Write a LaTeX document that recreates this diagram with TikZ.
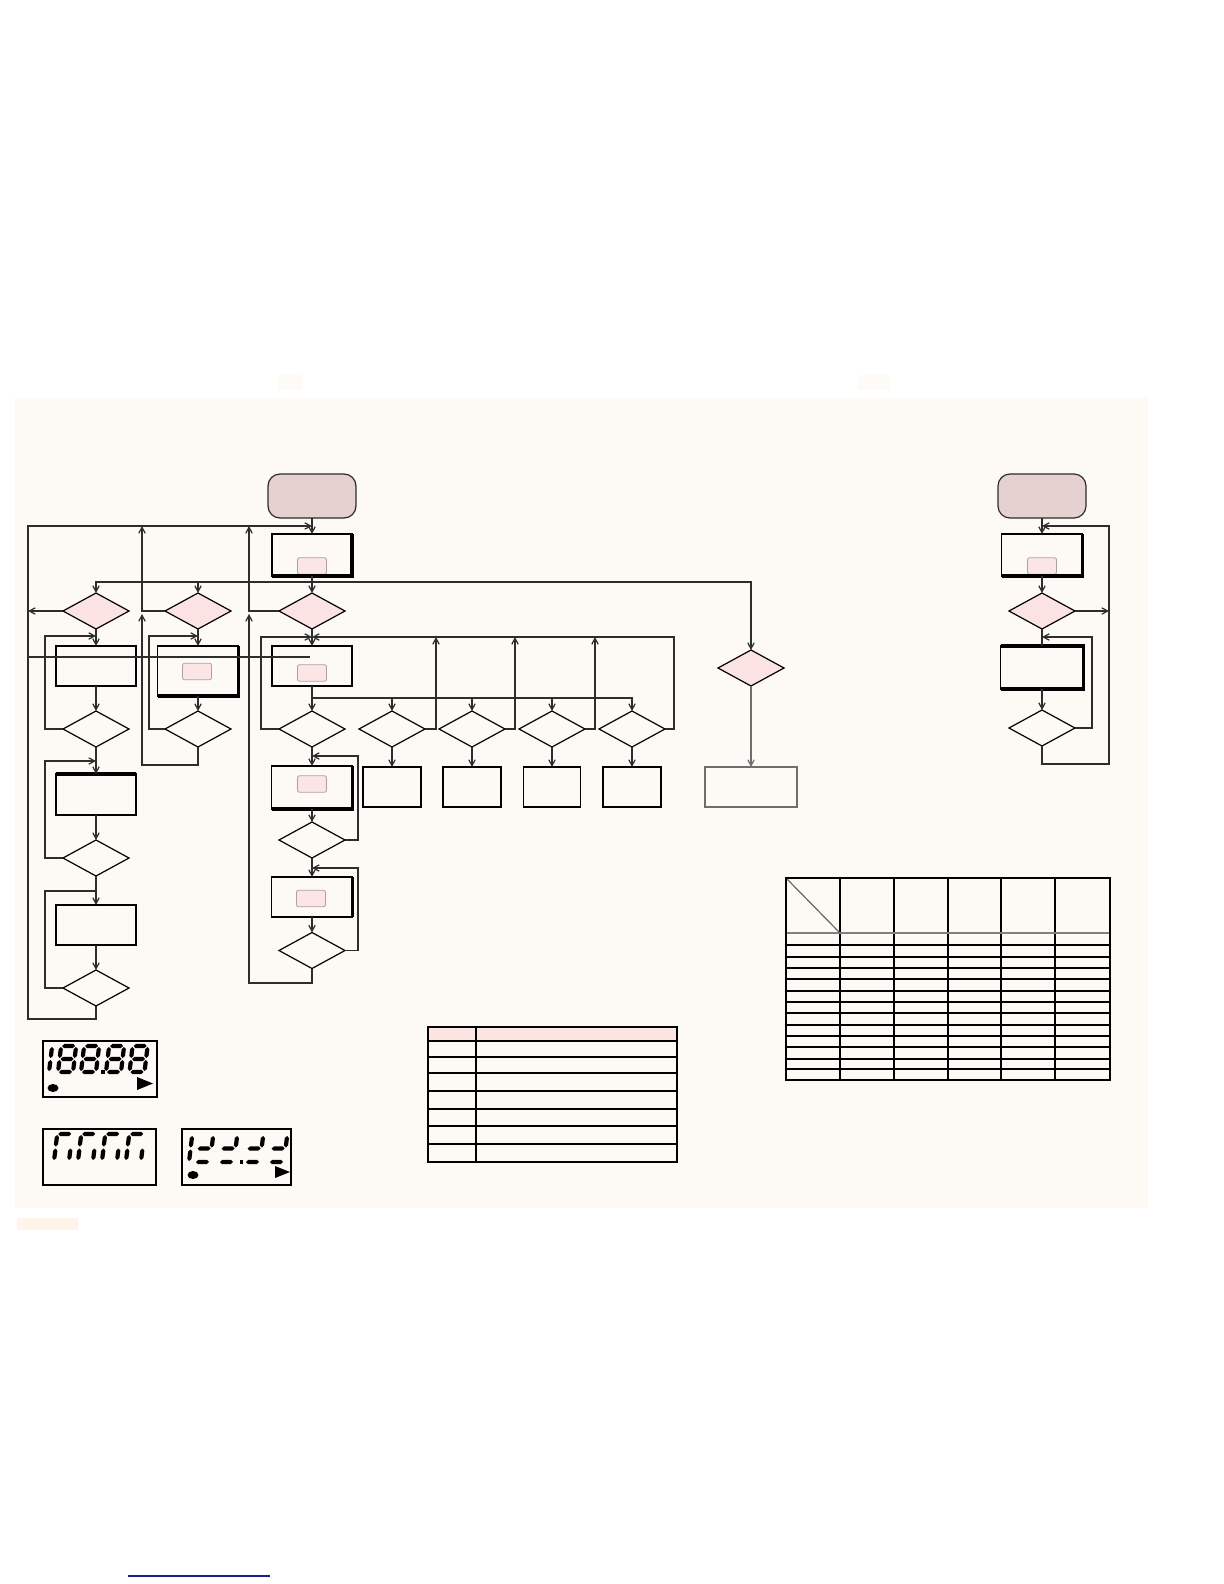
\documentclass[tikz,border=0pt]{standalone}
\usetikzlibrary{shapes.geometric,arrows.meta}
\definecolor{cream}{RGB}{253,249,244}
\definecolor{startfill}{RGB}{229,209,207}
\definecolor{pinkfill}{RGB}{251,227,227}
\definecolor{innerpink}{RGB}{252,229,229}
\definecolor{innergray}{RGB}{175,160,160}
\definecolor{linec}{RGB}{45,45,45}
\definecolor{graybox}{RGB}{110,110,110}
\definecolor{headpink}{RGB}{251,228,226}
\definecolor{faint}{RGB}{254,250,245}
\definecolor{faintor}{RGB}{254,244,234}
\definecolor{navyline}{RGB}{30,30,140}
\newcommand\hsegm[3]{\fill ({#1},{#3}) -- ({#1+2.1},{#3-2.1}) -- ({#2-2.1},{#3-2.1}) -- ({#2},{#3}) -- ({#2-2.1},{#3+2.1}) -- ({#1+2.1},{#3+2.1}) -- cycle;}
\newcommand\vsegm[3]{\fill ({#1},{#2}) -- ({#1+2.1},{#2+2.1}) -- ({#1+2.1},{#3-2.1}) -- ({#1},{#3}) -- ({#1-2.1},{#3-2.1}) -- ({#1-2.1},{#2+2.1}) -- cycle;}
\newcommand\sgA{\hsegm{1}{14}{-\dH}}
\newcommand\sgB{\vsegm{15}{-\dH+1}{-\dH/2-1}}
\newcommand\sgC{\vsegm{15}{-\dH/2+1}{-1}}
\newcommand\sgD{\hsegm{1}{14}{0}}
\newcommand\sgE{\vsegm{0}{-\dH/2+1}{-1}}
\newcommand\sgF{\vsegm{0}{-\dH+1}{-\dH/2-1}}
\newcommand\sgG{\hsegm{1}{14}{-\dH/2}}
\newcommand\lcddigit[3]{\begin{scope}[shift={(#1,#2)},xslant=0.12]#3\end{scope}}
\begin{document}
\begin{tikzpicture}[x=0.5bp,y=-0.5bp,
  conn/.style={draw=linec,line width=0.6bp},
  arr/.style={conn,-{Straight Barb[length=3bp,width=3.2bp]}},
  startnode/.style={draw=linec,fill=startfill,rounded corners=6bp,line width=0.6bp,minimum width=44bp,minimum height=22bp,inner sep=0,outer sep=0},
  procbox/.style 2 args={draw=black,line width=0.6bp,minimum width=#1*0.5bp,minimum height=#2*0.5bp,inner sep=0,outer sep=0},
  innerp/.style={draw=innergray,fill=innerpink,rounded corners=1bp,line width=0.4bp,minimum width=14.5bp,minimum height=8.2bp,inner sep=0,outer sep=0},
  dec/.style={diamond,draw=black,line width=0.6bp,minimum width=33bp,minimum height=18bp,inner sep=0,outer sep=0},
  decp/.style={dec,fill=pinkfill},
  thk/.style={line width=1.6bp}]
\useasboundingbox (0,0) rectangle (1224,1584);
\fill[white] (0,0) rectangle (1224,1584);
\fill[cream] (15,398) rectangle (1148,1208);
\fill[faint] (278,375) rectangle (303,390);
\fill[faint] (858,375) rectangle (889,390);
\fill[faintor] (17,1218) rectangle (78,1230);
\draw[navyline,line width=0.9bp] (128,1576) -- (270,1576);

% ---------- left flowchart nodes ----------
\node[startnode] (sL) at (312,496) {};
\node[procbox={80}{42}] (b1) at (312,555) {};
\node[innerp] (b1i) at (312,566) {};
\node[decp] (d1) at (96,611) {};
\node[decp] (d2) at (198,611) {};
\node[decp] (d3) at (312,611) {};
\node[procbox={80}{40}] (a1) at (96,666) {};
\node[procbox={81}{50}] (bb1) at (198,671) {};
\node[innerp] (bb1i) at (197,671.5) {};
\node[procbox={80}{40}] (c1) at (312,666) {};
\node[innerp] (c1i) at (312,673) {};
\node[dec] (e1) at (96,729) {};
\node[dec] (e2) at (198,729) {};
\node[dec] (e3) at (312,729) {};
\node[dec] (f1) at (392,729) {};
\node[dec] (f2) at (472,729) {};
\node[dec] (f3) at (552,729) {};
\node[dec] (f4) at (632,729) {};
\node[procbox={80}{41}] (a2) at (96,794.5) {};
\node[dec] (g1) at (96,858) {};
\node[procbox={80}{40}] (a3) at (96,925) {};
\node[dec] (h1) at (96,988) {};
\node[procbox={81}{43}] (c2) at (312,787.5) {};
\node[innerp] (c2i) at (312,784) {};
\node[dec] (g3) at (312,840) {};
\node[procbox={81}{40}] (c3) at (312,897) {};
\node[innerp] (c3i) at (311,898.5) {};
\node[dec] (h3) at (312,950.5) {};
\node[procbox={58}{40}] (o1) at (392,787) {};
\node[procbox={58}{40}] (o2) at (472,787) {};
\node[procbox={57}{40}] (o3) at (552,787) {};
\node[procbox={58}{40}] (o4) at (632,787) {};
\node[decp] (k) at (751,668) {};
\node[procbox={92}{40},draw=graybox] (kb) at (751,787) {};

% ---------- right flowchart nodes ----------
\node[startnode] (sR) at (1042,496) {};
\node[procbox={81}{42}] (r1) at (1042,555) {};
\node[innerp] (r1i) at (1042,566) {};
\node[decp] (dr1) at (1042,611) {};
\node[procbox={83}{43}] (r2) at (1042,667.5) {};
\node[dec] (dr2) at (1042,728) {};

% thick (shadow) edges
\draw[thk] (b1.north east) -- (b1.south east) -- (b1.south west);
\draw[thk] (bb1.north east) -- (bb1.south east) -- (bb1.south west);
\draw[thk] (c2.north east) -- (c2.south east) -- (c2.south west);
\draw[thk] (c3.north east) -- (c3.south east);
\draw[thk] (a2.north west) -- (a2.north east);
\draw[thk] (r1.north east) -- (r1.south east) -- (r1.south west);
\draw[thk] (r2.north west) -- (r2.north east) -- (r2.south east) -- (r2.south west);

% ---------- coordinates ----------
\coordinate (railA) at (28,526);
\coordinate (jtop) at (312,526);
\coordinate (railB) at (142,526);
\coordinate (railC) at (249,526);
\coordinate (jB) at (142,614);
\coordinate (jC) at (249,614);
\coordinate (br1) at (312,582);
\coordinate (br2) at (312,698);
\coordinate (la1) at (96,636);
\coordinate (la2) at (96,761);
\coordinate (la3) at (96,891);
\coordinate (lb1) at (198,636);
\coordinate (lc1) at (312,637);
\coordinate (lc2) at (312,756);
\coordinate (lc3) at (312,868);
\coordinate (stray) at (310,657);
\coordinate (rtop) at (1042,526);
\coordinate (rrail) at (1109,526);
\coordinate (rl1) at (1042,637);

% ---------- connectors left ----------
\draw[arr] (sL.south) -- (b1.north);
\draw[conn] (b1.south) -- (br1);
\draw[arr] (br1) -- (d3.north);
\draw[arr] (br1) -| (d1.north);
\draw[arr] (br1) -| (d2.north);
\draw[arr] (br1) -| (k.north);
\draw[arr] (h1.south) -- ++(0,13) -| (railA) -- (jtop);
\draw[arr] (d1.west) -- (d1.west -| railA);
\draw[arr] (d2.west) -| (railB);
\draw[arr] (d3.west) -| (railC);
\draw[arr] (e2.south) |- (142,765) -- (jB);
\draw[arr] (h3.south) |- (249,983) -- (jC);
\draw[conn] (railA |- stray) -- (stray);

\draw[arr] (d1.south) -- (a1.north);
\draw[arr] (a1.south) -- (e1.north);
\draw[arr] (e1.south) -- (a2.north);
\draw[arr] (a2.south) -- (g1.north);
\draw[arr] (g1.south) -- (a3.north);
\draw[arr] (a3.south) -- (h1.north);
\draw[arr] (e1.west) -| (45,636) -- (la1);
\draw[arr] (g1.west) -| (45,761) -- (la2);
\draw[conn] (h1.west) -| (45,891) -- (la3);

\draw[arr] (d2.south) -- (bb1.north);
\draw[arr] (bb1.south) -- (e2.north);
\draw[arr] (e2.west) -| (149,636) -- (lb1);

\draw[arr] (d3.south) -- (c1.north);
\draw[conn] (c1.south) -- (br2);
\draw[arr] (br2) -- (e3.north);
\draw[arr] (br2) -| (f1.north);
\draw[arr] (br2) -| (f2.north);
\draw[arr] (br2) -| (f3.north);
\draw[arr] (br2) -| (f4.north);
\draw[arr] (e3.west) -| (261,637) -- (lc1);
\draw[arr] (f4.east) -| (674,637) -- (lc1);
\draw[arr] (f1.east) -| (436,637);
\draw[arr] (f2.east) -| (515,637);
\draw[arr] (f3.east) -| (595,637);
\draw[arr] (f1.south) -- (o1.north);
\draw[arr] (f2.south) -- (o2.north);
\draw[arr] (f3.south) -- (o3.north);
\draw[arr] (f4.south) -- (o4.north);
\draw[arr] (e3.south) -- (c2.north);
\draw[arr] (c2.south) -- (g3.north);
\draw[arr] (g3.south) -- (c3.north);
\draw[arr] (c3.south) -- (h3.north);
\draw[arr] (g3.east) -| (358,756) -- (lc2);
\draw[arr] (h3.east) -| (358,868) -- (lc3);
\draw[arr,draw=graybox] (k.south) -- (kb.north);

% ---------- connectors right ----------
\draw[arr] (sR.south) -- (r1.north);
\draw[arr] (r1.south) -- (dr1.north);
\draw[arr] (dr1.east) -- (dr1.east -| rrail);
\draw[conn] (dr1.south) -- (r2.north);
\draw[arr] (r2.south) -- (dr2.north);
\draw[arr] (dr2.east) -| (1092,637) -- (rl1);
\draw[arr] (dr2.south) |- (1109,764) -- (rrail) -- (rtop);

% ---------- table 1 ----------
\fill[headpink] (428,1027) rectangle (677,1041);
\draw[line width=0.7bp] (428,1027) rectangle (677,1162);
\draw[line width=1.3bp] (677,1027) -- (677,1162);
\draw[line width=1.3bp] (428,1041) -- (677,1041);
\draw[line width=0.7bp] (476,1027) -- (476,1162);
\foreach \yy in {1057,1073,1091,1109,1126,1144}
  \draw[line width=0.7bp] (428,\yy) -- (677,\yy);

% ---------- table 2 ----------
\foreach \xx in {840,894,948,1001,1055}
  \draw[line width=0.7bp] (\xx,878) -- (\xx,1080);
\foreach \yy in {945,957,968,979,991,1002,1013,1025,1036,1047,1059,1069}
  \draw[line width=0.7bp] (786,\yy) -- (1110,\yy);
\draw[gray,line width=1.1bp] (786,933) -- (1110,933);
\draw[gray!80!black,line width=0.6bp] (786,878) -- (840,933);
\draw[line width=1.1bp] (786,878) rectangle (1110,1080);

% ---------- LCD displays ----------
\draw[line width=0.7bp] (43,1041) rectangle (157,1097);
\def\dH{26}
\lcddigit{34}{1072}{\sgB\sgC}
\lcddigit{58}{1072}{\sgA\sgB\sgC\sgD\sgE\sgF\sgG}
\lcddigit{81}{1072}{\sgA\sgB\sgC\sgD\sgE\sgF\sgG}
\fill (101,1070) rectangle (104.5,1073.5);
\lcddigit{106}{1072}{\sgA\sgB\sgC\sgD\sgE\sgF\sgG}
\lcddigit{129.5}{1072}{\sgA\sgB\sgC\sgD\sgE\sgF\sgG}
\fill (53,1088) ellipse [x radius=5.5, y radius=4];
\fill (137,1077) -- (153,1083.5) -- (137,1090) -- cycle;

\draw[line width=0.7bp] (43,1129) rectangle (156,1185);
\def\dH{27}
\lcddigit{54}{1161}{\sgA\sgE\sgF\sgC}
\lcddigit{78}{1161}{\sgA\sgE\sgF\sgC}
\lcddigit{102}{1161}{\sgA\sgE\sgF\sgC}
\lcddigit{126}{1161}{\sgA\sgE\sgF\sgC}

\draw[line width=0.7bp] (182,1129) rectangle (291,1185);
\def\dH{27}
\lcddigit{174}{1162}{\sgB\sgC}
\lcddigit{195}{1162}{\sgB\sgG\sgD}
\lcddigit{219}{1162}{\sgB\sgG\sgD}
\fill (239.5,1160) rectangle (243,1163.5);
\lcddigit{245}{1162}{\sgB\sgG\sgD}
\lcddigit{269}{1162}{\sgB\sgG\sgD}
\fill (193,1175) ellipse [x radius=5.5, y radius=4];
\fill (275,1166) -- (290,1172) -- (275,1178) -- cycle;
\end{tikzpicture}
\end{document}
